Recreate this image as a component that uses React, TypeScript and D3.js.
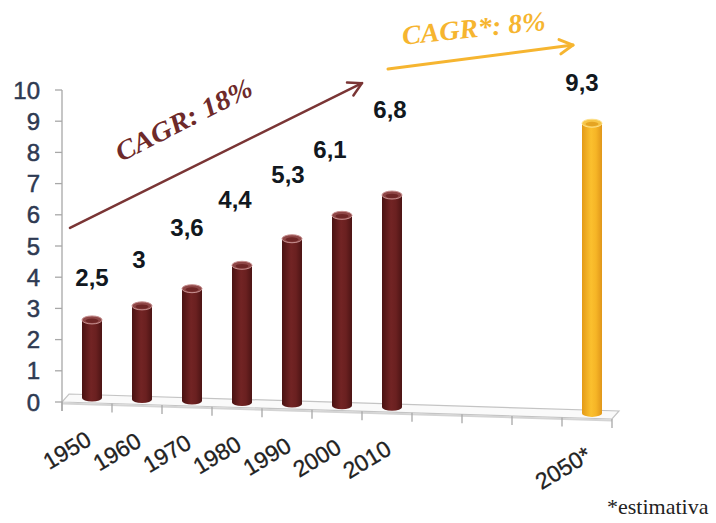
import React from 'react';
import * as d3 from 'd3';

// ---- data ----
const categories = ['1950', '1960', '1970', '1980', '1990', '2000', '2010', '', '', '', '2050*'];
const values: (number | null)[] = [2.5, 3, 3.6, 4.4, 5.3, 6.1, 6.8, null, null, null, 9.3];
const valueLabels = ['2,5', '3', '3,6', '4,4', '5,3', '6,1', '6,8', '', '', '', '9,3'];
const estimated = [false, false, false, false, false, false, false, false, false, false, true];
const yTicks = [0, 1, 2, 3, 4, 5, 6, 7, 8, 9, 10];
const footnote = '*estimativa';

// label placement (value-axis level of label baseline, and x nudge)
const labelLevel = [3.72, 4.29, 5.32, 6.22, 7.03, 7.82, 9.1, 0, 0, 0, 9.97];
const labelDx = [0, -3, -5, -7, -4, -12, -2, 0, 0, 0, -10];

// annotations: [slotIndexPos, value]
const cagrHistText = 'CAGR: 18%';
const cagrHistArrow = [[0.16, 5.58], [6.0, 10.22]];
const cagrHistTextPos = [1.18, 7.69];
const cagrEstText = 'CAGR*: 8%';
const cagrEstArrow = [[6.52, 10.67], [10.22, 11.44]];
const cagrEstTextPos = [6.82, 11.45];

const W = 716;
const H = 523;

export default function App() {
  const x = d3.scaleBand<number>().domain(d3.range(categories.length)).range([62, 612]);
  const xi = d3.scaleLinear().domain([0, categories.length]).range([62, 612]);
  const y = d3.scaleLinear().domain([0, 10]).range([402, 90]);
  const slope = 17 / 550;
  const frontY = (px: number) => y(0) + (px - 62) * slope;
  const depth = { dx: 7, dy: -8 };
  const x0 = 62, x1 = 612;

  const arrow = (pts: number[][], color: string, w: number) => {
    const [a, b] = pts;
    const ax = xi(a[0]), ay = y(a[1]), bx = xi(b[0]), by = y(b[1]);
    const ang = Math.atan2(by - ay, bx - ax);
    const L = 15;
    const h1 = [bx - L * Math.cos(ang - 0.5), by - L * Math.sin(ang - 0.5)];
    const h2 = [bx - L * Math.cos(ang + 0.5), by - L * Math.sin(ang + 0.5)];
    return (
      <g stroke={color} strokeWidth={w} fill="none" strokeLinecap="round" strokeLinejoin="round">
        <line x1={ax} y1={ay} x2={bx} y2={by} />
        <polyline points={`${h1[0]},${h1[1]} ${bx},${by} ${h2[0]},${h2[1]}`} />
      </g>
    );
  };

  return (
    <svg width={W} height={H} style={{ position: 'absolute', left: 0, top: 0, background: '#fff' }}>
      <defs>
        <linearGradient id="gMaroon" x1="0" x2="1" y1="0" y2="0">
          <stop offset="0" stopColor="#4a1212" />
          <stop offset="0.45" stopColor="#722424" />
          <stop offset="0.7" stopColor="#6a2020" />
          <stop offset="1" stopColor="#4c1414" />
        </linearGradient>
        <linearGradient id="gOrange" x1="0" x2="1" y1="0" y2="0">
          <stop offset="0" stopColor="#e39a17" />
          <stop offset="0.45" stopColor="#fbc02e" />
          <stop offset="0.7" stopColor="#f6b526" />
          <stop offset="1" stopColor="#e0961a" />
        </linearGradient>
      </defs>

      {/* floor */}
      <polygon
        points={`${x0},${frontY(x0)} ${x1},${frontY(x1)} ${x1 + depth.dx},${frontY(x1) + depth.dy} ${x0 + depth.dx},${frontY(x0) + depth.dy}`}
        fill="#fafafa"
        stroke="#c4c4c4"
        strokeWidth={1.2}
      />
      <line x1={x0} y1={frontY(x0) + 1.5} x2={x1} y2={frontY(x1) + 1.5} stroke="#d4d4d4" strokeWidth={2} />

      {/* x ticks */}
      {d3.range(categories.length + 1).map((i) => {
        const px = xi(i);
        return <line key={i} x1={px} x2={px} y1={frontY(px)} y2={frontY(px) + 9} stroke="#a8a8a8" strokeWidth={1.3} />;
      })}

      {/* y axis */}
      <line x1={x0} x2={x0} y1={y(10)} y2={y(0) + 9} stroke="#a8a8a8" strokeWidth={1.3} />
      {yTicks.map((t) => (
        <g key={t}>
          <line x1={55} x2={x0} y1={y(t)} y2={y(t)} stroke="#a8a8a8" strokeWidth={1.3} />
          <text x={40} y={y(t)} dy="0.36em" textAnchor="end" fontFamily="Liberation Sans, Arial, sans-serif" fontSize={24} fill="#2e3a52" stroke="#2e3a52" strokeWidth={0.5}>
            {t}
          </text>
        </g>
      ))}

      {/* bars */}
      {values.map((v, i) => {
        if (v == null) return null;
        const cx = (x(i) as number) + x.bandwidth() / 2 + 5;
        const base = frontY(cx) - 5;
        const top = base - (y(0) - y(v));
        const bw = 20;
        const fill = estimated[i] ? 'url(#gOrange)' : 'url(#gMaroon)';
        const topFill = estimated[i] ? '#f7c648' : '#8e4646';
        const topRim = estimated[i] ? '#fde08a' : '#c79090';
        const inner = estimated[i] ? '#e5a423' : '#6e2626';
        return (
          <g key={i}>
            <ellipse cx={cx} cy={base} rx={bw / 2} ry={3.5} fill={fill} />
            <rect x={cx - bw / 2} y={top} width={bw} height={base - top} fill={fill} />
            <ellipse cx={cx} cy={top} rx={bw / 2} ry={4} fill={topFill} stroke={topRim} strokeWidth={1} />
            <ellipse cx={cx} cy={top + 0.8} rx={bw / 2 - 3.5} ry={2.2} fill={inner} />
          </g>
        );
      })}

      {/* value labels */}
      {values.map((v, i) => {
        if (v == null) return null;
        const cx = (x(i) as number) + x.bandwidth() / 2 + 5;
        return (
          <text key={i} x={cx + labelDx[i]} y={y(labelLevel[i])} textAnchor="middle" fontFamily="Liberation Sans, Arial, sans-serif" fontWeight="bold" fontSize={24} fill="#111820">
            {valueLabels[i]}
          </text>
        );
      })}

      {/* x labels */}
      {categories.map((c, i) => {
        if (!c) return null;
        const ax = (x(i) as number) + x.bandwidth() / 2 + 6;
        const ay = frontY(ax) + 41;
        return (
          <text key={i} x={ax} y={ay} transform={`rotate(-31 ${ax} ${ay})`} textAnchor="end" fontFamily="Liberation Sans, Arial, sans-serif" fontSize={23} fill="#222" stroke="#222" strokeWidth={0.3}>
            {c}
          </text>
        );
      })}

      {/* CAGR annotations */}
      {arrow(cagrHistArrow, '#7a3535', 2.5)}
      {(() => {
        const tx = xi(cagrHistTextPos[0]);
        const ty = y(cagrHistTextPos[1]);
        return (
          <text x={tx} y={ty} transform={`rotate(-27 ${tx} ${ty})`} fontFamily="Liberation Serif, Times New Roman, serif" fontStyle="italic" fontWeight="bold" fontSize={27} fill="#6e2a2a" textLength={150} lengthAdjust="spacingAndGlyphs">
            {cagrHistText}
          </text>
        );
      })()}
      {arrow(cagrEstArrow, '#f6b530', 3)}
      {(() => {
        const tx = xi(cagrEstTextPos[0]);
        const ty = y(cagrEstTextPos[1]);
        return (
          <text x={tx} y={ty} transform={`rotate(-6 ${tx} ${ty})`} fontFamily="Liberation Serif, Times New Roman, serif" fontStyle="italic" fontWeight="bold" fontSize={27} fill="#f6b530" textLength={144} lengthAdjust="spacingAndGlyphs">
            {cagrEstText}
          </text>
        );
      })()}

      <text x={607} y={514} fontFamily="Liberation Serif, Times New Roman, serif" fontSize={22} fill="#222">
        {footnote}
      </text>
    </svg>
  );
}
